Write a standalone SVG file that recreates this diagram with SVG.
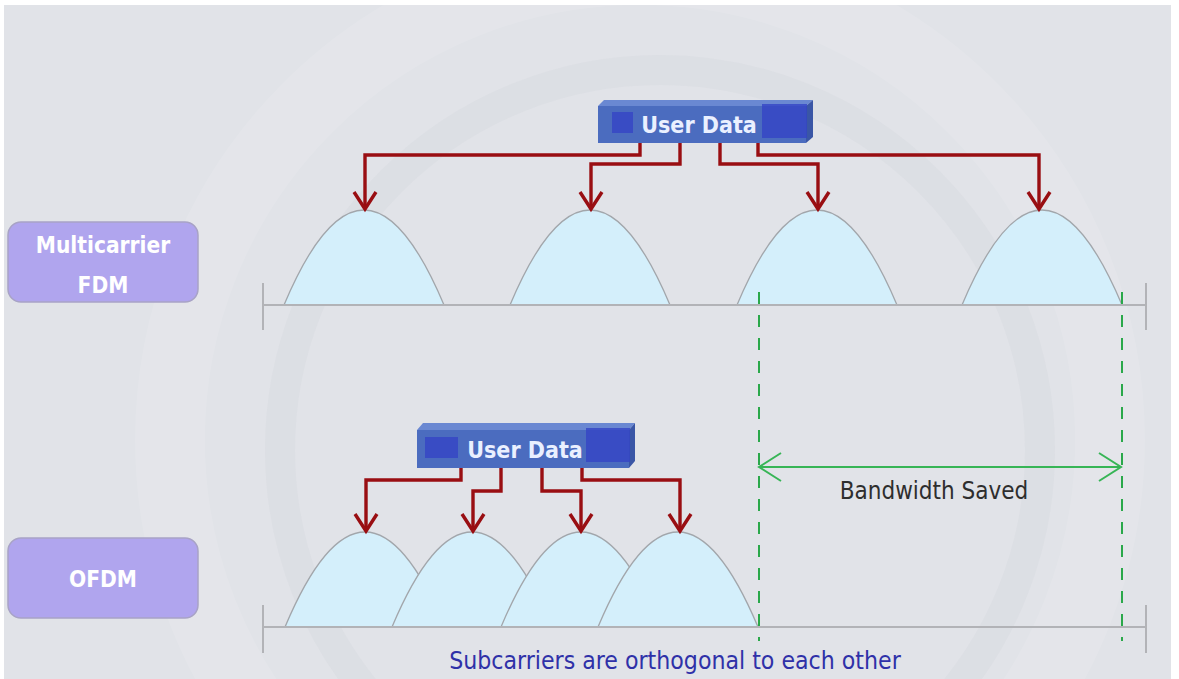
<svg xmlns="http://www.w3.org/2000/svg" xmlns:xlink="http://www.w3.org/1999/xlink" width="1179" height="679" viewBox="0 0 1179 679">
  <style>
    .page{fill:#ffffff}
    .panel{fill:#e1e3e8}
    .swoosh{fill:none;stroke:#ffffff;stroke-opacity:0.10}
    .swoosh-dark{fill:none;stroke:#c9ccd4;stroke-opacity:0.18}
    .axis{fill:none;stroke:#b2b3b7;stroke-width:2}
    .hump{fill:#d4effb;stroke:#a2a6ab;stroke-width:1.3}
    .feed{fill:none;stroke:#990e12;stroke-width:3.4;stroke-linejoin:miter;marker-end:url(#feed-head)}
    .guide{fill:none;stroke:#2aa84a;stroke-width:2;stroke-dasharray:12 11}
    .span{fill:none;stroke:#37b556;stroke-width:2;marker-start:url(#span-head);marker-end:url(#span-head)}
    .tag{fill:#b0a5ee;stroke:#a8a3c6;stroke-width:1.5}
    .tag-text{font-family:'DejaVu Sans Condensed','DejaVu Sans',sans-serif;font-stretch:condensed;font-weight:bold;font-size:22.5px;fill:#ffffff;text-anchor:middle}
    .box-front{fill:#4b6cbf}
    .box-top{fill:#6a88d2}
    .box-side{fill:#3a56a6}
    .box-mark{fill:#3545c6;fill-opacity:0.8}
    .box-text{font-family:'DejaVu Sans Condensed','DejaVu Sans',sans-serif;font-stretch:condensed;font-weight:bold;font-size:23px;fill:#eaf0ff;text-anchor:middle}
    .note{font-family:'DejaVu Sans Condensed','DejaVu Sans',sans-serif;font-stretch:condensed;font-size:24px;text-anchor:middle}
    .note-dark{fill:#2e2e2e}
    .note-blue{fill:#2f31a8;font-size:24.6px}
  </style>
  <defs>
    <!-- one subcarrier lobe: parabolic, peak at (0,0), base at y=95, half-width 80 -->
    <path id="lobe" d="M-80,95 Q0,-95 80,95"/>
    <marker id="feed-head" viewBox="-20 -14 24 28" markerWidth="24" markerHeight="28" refX="0" refY="0" orient="auto" markerUnits="userSpaceOnUse" overflow="visible">
      <path d="M-17,-11 L0,0 L-17,11" fill="none" stroke="#990e12" stroke-width="3.4" stroke-linejoin="miter"/>
    </marker>
    <marker id="span-head" viewBox="-24 -16 28 32" markerWidth="28" markerHeight="32" refX="0" refY="0" orient="auto-start-reverse" markerUnits="userSpaceOnUse" overflow="visible">
      <path d="M-22,-14 L0,0 L-22,14" fill="none" stroke="#37b556" stroke-width="2"/>
    </marker>
  </defs>

  <!-- page and faint background emblem -->
  <rect class="page" x="0" y="0" width="1179" height="679"/>
  <rect class="panel" x="4" y="5" width="1167" height="674"/>
  <g id="emblem">
    <circle class="swoosh" cx="640" cy="440" r="470" stroke-width="70"/>
    <circle class="swoosh-dark" cx="660" cy="450" r="380" stroke-width="30"/>
  </g>

  <!-- mode labels -->
  <g id="label-fdm">
    <rect class="tag" x="8" y="222" width="190" height="80" rx="13"/>
    <text class="tag-text" x="103" y="253">Multicarrier</text>
    <text class="tag-text" x="103" y="293">FDM</text>
  </g>
  <g id="label-ofdm">
    <rect class="tag" x="8" y="538" width="190" height="80" rx="13"/>
    <text class="tag-text" x="103" y="587">OFDM</text>
  </g>

  <!-- multicarrier FDM lobes -->
  <g id="fdm-lobes">
    <use id="fdm-1" class="hump" xlink:href="#lobe" href="#lobe" x="364" y="210"/>
    <use id="fdm-2" class="hump" xlink:href="#lobe" href="#lobe" x="590" y="210"/>
    <use id="fdm-3" class="hump" xlink:href="#lobe" href="#lobe" x="817" y="210"/>
    <use id="fdm-4" class="hump" xlink:href="#lobe" href="#lobe" x="1042" y="210"/>
  </g>

  <!-- OFDM lobes, overlapping -->
  <g id="ofdm-lobes">
    <use id="ofdm-1" class="hump" xlink:href="#lobe" href="#lobe" x="365" y="532"/>
    <use id="ofdm-2" class="hump" xlink:href="#lobe" href="#lobe" x="472" y="532"/>
    <use id="ofdm-3" class="hump" xlink:href="#lobe" href="#lobe" x="581" y="532"/>
    <use id="ofdm-4" class="hump" xlink:href="#lobe" href="#lobe" x="678" y="532"/>
  </g>

  <!-- frequency axes -->
  <g id="axes">
    <path class="axis" d="M263,305 H1146 M263,283 V330 M1146,283 V330"/>
    <path class="axis" d="M263,627 H1146 M263,605 V653 M1146,605 V653"/>
  </g>

  <!-- user data blocks -->
  <g id="user-data-fdm">
    <polygon class="box-top" points="598,106 604,100 813,100 806,106"/>
    <polygon class="box-side" points="806,106 813,100 813,137 806,143"/>
    <rect class="box-front" x="598" y="106" width="208" height="37"/>
    <rect class="box-mark" x="612" y="112" width="21" height="21"/>
    <rect class="box-mark" x="762" y="104" width="45" height="34"/>
    <text class="box-text" x="699" y="133">User Data</text>
  </g>
  <g id="user-data-ofdm">
    <polygon class="box-top" points="417,430 423,423 635,423 629,430"/>
    <polygon class="box-side" points="629,430 635,423 635,461 629,468"/>
    <rect class="box-front" x="417" y="430" width="212" height="38"/>
    <rect class="box-mark" x="425" y="437" width="33" height="21"/>
    <rect class="box-mark" x="586" y="428" width="44" height="34"/>
    <text class="box-text" x="525" y="458">User Data</text>
  </g>

  <!-- connectors -->
  <g id="connectors">
    <path class="feed" d="M640,143 V155 H365 V209"/>
    <path class="feed" d="M680,143 V164 H591 V209"/>
    <path class="feed" d="M720,143 V164 H818 V209"/>
    <path class="feed" d="M758,143 V155 H1039 V209"/>

    <path class="feed" d="M461,468 V480 H366 V531"/>
    <path class="feed" d="M501,468 V491 H473 V531"/>
    <path class="feed" d="M542,468 V491 H581 V531"/>
    <path class="feed" d="M582,468 V480 H680 V531"/>

    <path class="guide" d="M759,292 V641"/>
    <path class="guide" d="M1122,292 V641"/>
    <path class="span" d="M759,467 H1121"/>
  </g>

  <text class="note note-dark" x="934" y="499">Bandwidth Saved</text>
  <text class="note note-blue" x="675" y="669">Subcarriers are orthogonal to each other</text>
</svg>
